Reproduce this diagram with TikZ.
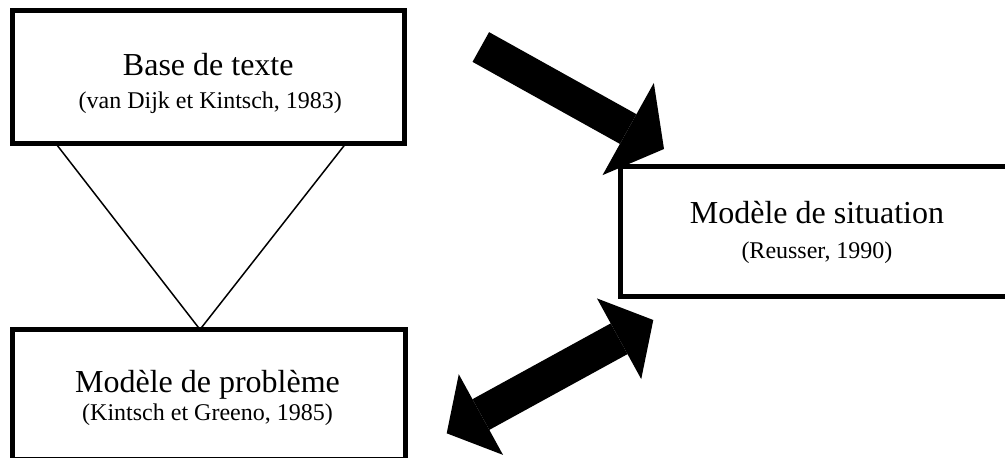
\documentclass[tikz,border=0pt]{standalone}
\usepackage{fontspec}
\setmainfont{Liberation Serif}
\usetikzlibrary{arrows.meta}

\begin{document}
\begin{tikzpicture}[x=1pt,y=-1pt,
    box/.style={draw,line width=5pt,outer sep=0pt,inner sep=0pt,minimum height=130pt},
    titletext/.style={anchor=base,inner sep=0pt,font=\fontsize{32}{38}\selectfont},
    subtext/.style={anchor=base,inner sep=0pt,font=\fontsize{24}{29}\selectfont},
    fatarrow/.style={line width=#1}]
  \useasboundingbox (0,0) rectangle (1005,458);
  \clip (0,0) rectangle (1005,458);

  % the three models
  \node[box,minimum width=392.5pt,minimum height=132.5pt] (base) at (208.25,76.75) {};
  \node[box,minimum width=393pt] (probleme) at (209,394.5) {};
  \node[box,minimum width=394pt] (situation) at (817,231) {};

  \node[titletext] (basetitle) at ([yshift=1.75pt]base.center) {Base de texte};
  \node[subtext] (basesub) at ([xshift=2pt,yshift=-31.25pt]base.center) {(van Dijk et Kintsch, 1983)};
  \node[titletext] (problemetitle) at ([xshift=-1.5pt,yshift=2.5pt]probleme.center) {Modèle de problème};
  \node[subtext] (problemesub) at ([xshift=-1.5pt,yshift=-25.5pt]probleme.center) {(Kintsch et Greeno, 1985)};
  \node[titletext] (situationtitle) at ([yshift=8pt]situation.center) {Modèle de situation};
  \node[subtext] (situationsub) at ([yshift=-27.5pt]situation.center) {(Reusser, 1990)};

  % triangle between base and probleme
  \coordinate (legl) at ([xshift=43.4pt]base.south west);
  \coordinate (legr) at ([xshift=-58.3pt]base.south east);
  \coordinate (apex) at ([xshift=-9pt]probleme.north);
  \draw[line width=1.5pt] (legl) -- (apex) -- (legr);

  % fat arrows
  \coordinate (arrowtail) at (480.8,47);
  \coordinate (arrowtip) at ([xshift=44pt,yshift=17pt]situation.north west);
  \draw[fatarrow=34pt,-{Triangle[length=41pt,width=105.5pt,line width=0pt]}] (arrowtail) -- (arrowtip);
  \coordinate (dbllow) at ([xshift=41.2pt,yshift=-38.8pt]probleme.east);
  \coordinate (dblhigh) at ([xshift=33.3pt,yshift=-24pt]situation.south west);
  \draw[fatarrow=35pt,{Triangle[length=39pt,width=92pt,line width=0pt]}-{Triangle[length=39pt,width=92pt,line width=0pt]}] (dbllow) -- (dblhigh);
\end{tikzpicture}
\end{document}
